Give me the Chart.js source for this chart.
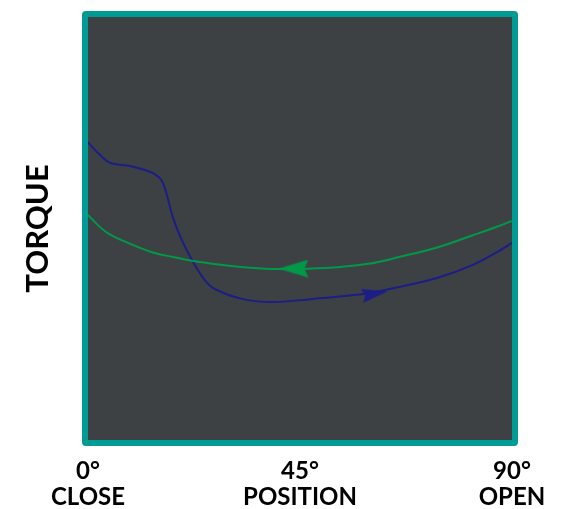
<!DOCTYPE html>
<html>
<head>
<meta charset="utf-8">
<script src="https://cdn.jsdelivr.net/npm/chart.js@4/dist/chart.umd.min.js"></script>
<style>
  html, body { margin: 0; padding: 0; background: #fff; }
  #wrap { width: 574px; height: 509px; }
</style>
</head>
<body>
<div id="wrap"><canvas id="torque"></canvas></div>
<script>
// valve torque vs position, opening (blue) and closing (green) strokes
const tickValues = [0, 45, 90];
const tickLabels = [['0°', 'CLOSE'], ['45°', 'POSITION'], ['90°', 'OPEN']];

// opening stroke, position in degrees / torque in % of axis
const openX = [0, 1.9, 4.7, 8.9, 13.8, 15.9, 18.0, 19.9, 22.3, 24.8, 26.9, 32.9, 39.3, 47.1, 58.4, 66.2, 74.1, 81.7, 86.8, 90];
const openY = [70.4, 68.1, 65.5, 64.8, 63.1, 60.8, 52.7, 47.3, 42.1, 37.8, 35.7, 33.3, 32.6, 33.3, 34.5, 36.2, 38.3, 41.4, 44.4, 46.6];

// closing stroke
const closeX = [0, 2.1, 4.2, 8.5, 13.6, 17.8, 22.3, 26.9, 34.4, 40.3, 46.7, 53.5, 59.9, 66.2, 74.1, 81.7, 86.8, 90];
const closeY = [53.2, 50.8, 48.9, 46.6, 44.4, 43.3, 42.3, 41.6, 40.7, 40.4, 40.5, 40.9, 41.7, 43.3, 45.5, 48.4, 50.4, 51.8];

// direction arrows placed on each curve
const openArrow = [{ x: 60.9, y: 34.6 }];
const closeArrow = [{ x: 43.6, y: 40.5 }];

const BLUE = '#1d1d86';
const GREEN = '#00994a';

function arrowHead(len, halfW, notch, color) {
    const c = document.createElement('canvas');
    c.width = len;
    c.height = halfW * 2;
    const g = c.getContext('2d');
    g.fillStyle = color;
    g.beginPath();
    g.moveTo(len, halfW);
    g.lineTo(0, 0);
    g.lineTo(notch, halfW);
    g.lineTo(0, halfW * 2);
    g.closePath();
    g.fill();
    return c;
}

const frame = {
    id: 'frame',
    beforeDraw(chart) {
        const { ctx, chartArea: a } = chart;
        const b = 6;
        ctx.save();
        ctx.fillStyle = '#009b94';
        ctx.beginPath();
        ctx.roundRect(a.left - b, a.top - b, a.right - a.left + 2 * b, a.bottom - a.top + 2 * b, 4);
        ctx.fill();
        ctx.fillStyle = '#3d4144';
        ctx.fillRect(a.left, a.top, a.right - a.left, a.bottom - a.top);
        ctx.restore();
    }
};

const pts = (xs, ys) => xs.map((x, i) => ({ x, y: ys[i] }));

new Chart(document.getElementById('torque'), {
    type: 'line',
    data: {
        datasets: [
            {
                data: closeArrow, showLine: false, pointRadius: 10,
                pointStyle: arrowHead(30, 9, 4, GREEN), pointRotation: 180
            },
            {
                data: openArrow, showLine: false, pointRadius: 10,
                pointStyle: arrowHead(26, 7, 3, BLUE), pointRotation: -10
            },
            {
                data: pts(closeX, closeY), borderColor: GREEN, borderWidth: 2,
                pointRadius: 0, cubicInterpolationMode: 'monotone'
            },
            {
                data: pts(openX, openY), borderColor: BLUE, borderWidth: 2,
                pointRadius: 0, tension: 0.3
            }
        ]
    },
    options: {
        responsive: true,
        maintainAspectRatio: false,
        animation: false,
        events: [],
        layout: { padding: { left: 0, right: 62, top: 17, bottom: 0 } },
        plugins: { legend: { display: false }, tooltip: { enabled: false } },
        scales: {
            x: {
                type: 'linear', min: 0, max: 90,
                grid: { display: false, drawTicks: false },
                border: { display: false },
                afterBuildTicks: s => { s.ticks = tickValues.map(v => ({ value: v })); },
                ticks: {
                    padding: 18,
                    color: '#000',
                    maxRotation: 0,
                    autoSkip: false,
                    font: { family: 'Lato', weight: 'bold', size: 24, lineHeight: 1.1 },
                    callback: (v) => tickLabels[tickValues.indexOf(v)]
                },
                afterFit: s => { s.height = 69; }
            },
            y: {
                min: 0, max: 100,
                grid: { display: false, drawTicks: false },
                border: { display: false },
                ticks: { display: false },
                title: {
                    display: true, text: 'TORQUE', color: '#000',
                    font: { family: 'Lato', weight: 'bold', size: 31, lineHeight: 1.2 },
                    padding: { top: 19, bottom: 0 }
                },
                afterFit: s => { s.width = 88; }
            }
        }
    },
    plugins: [frame]
});
</script>
</body>
</html>
